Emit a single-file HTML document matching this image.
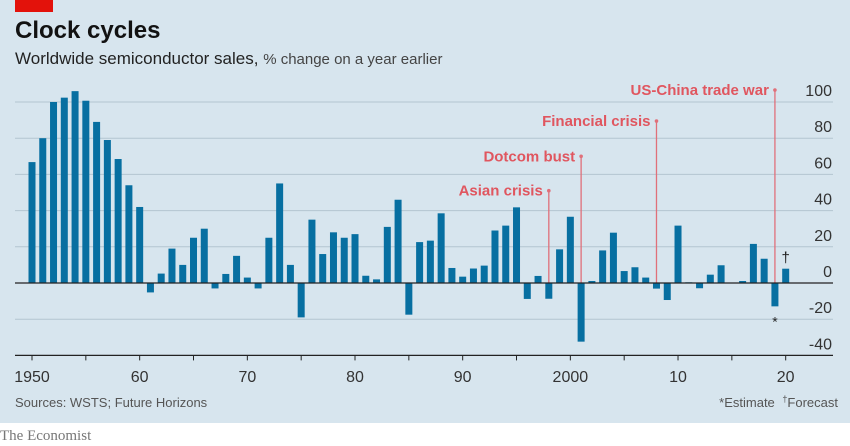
<!DOCTYPE html>
<html><head><meta charset="utf-8"><style>
body{margin:0;width:850px;height:446px;overflow:hidden;background:#fff;font-family:"Liberation Sans",sans-serif}
#bg{position:absolute;left:0;top:0;width:850px;height:423px;background:#d7e5ee}
</style></head><body>
<div id="bg"></div>
<svg width="850" height="446" style="position:absolute;left:0;top:0">
<rect x="15" y="0" width="38" height="12" fill="#e3120b"/>
<text x="15" y="38" font-size="24" font-weight="bold" fill="#121212">Clock cycles</text>
<text x="15" y="64" font-size="17" fill="#222">Worldwide semiconductor sales, <tspan font-size="15" fill="#444">% change on a year earlier</tspan></text>
<g id="grid"></g><g id="bars"></g><g id="ann"></g><g id="axis"></g>
<text x="15" y="407" font-size="13" fill="#555">Sources: WSTS; Future Horizons</text>
<text x="838" y="407" font-size="13" fill="#555" text-anchor="end">*Estimate  <tspan dx="4" font-size="9" dy="-5">†</tspan><tspan dy="5">Forecast</tspan></text>
<text x="0" y="440" font-size="15" fill="#777" font-family="Liberation Serif,serif">The Economist</text>
</svg>
<script>
const years=[];for(let y=1950;y<=2020;y++)years.push(y);
const values=[66.8,80,100,102.4,106,100.7,89,79,68.5,54,42,-5.2,5.2,19,10,25,30,-3,5,15,3,-3,25,55,10,-19,
35,16,28,25,27,4,2,31,46,-17.5,22.6,23.4,38.5,8.3,3.5,8,9.6,29,31.7,41.8,-8.8,3.9,-8.7,18.6,36.6,-32.4,1.1,18,27.8,6.6,8.7,3,-3.1,-9.4,31.7,0.4,-2.9,4.6,9.8,0.2,1.1,21.6,13.4,-12.9,7.9];
const yTicks=[100,80,60,40,20,0,-20,-40];
const xTickLabels=["1950","60","70","80","90","2000","10","20"];
const annYears=[1998,2001,2008,2019];
const annTops=[51,70,89.5,106.6];
const annLabels=["Asian crisis","Dotcom bust","Financial crisis","US-China trade war"];
const NS="http://www.w3.org/2000/svg";
const X=y=>32+10.767*(y-1950);
const Y=v=>283-1.81*v;
function mk(tag,attrs,parent,txt){const e=document.createElementNS(NS,tag);for(const k in attrs)e.setAttribute(k,attrs[k]);if(txt!=null)e.textContent=txt;document.getElementById(parent).appendChild(e);return e;}
yTicks.forEach(t=>{
 if(t!==0&&t!==-40){const l=mk('line',{x1:15,x2:833,y1:Y(t),y2:Y(t),stroke:'#b3c5d0','stroke-width':1},'grid');
 
 }
 const tx=mk('text',{x:832,y:Y(t)-6,'font-size':16,fill:'#333','text-anchor':'end'},'grid',t);
 
 
});
years.forEach((yr,i)=>{const v=values[i];
 const r=mk('rect',{x:X(yr)-3.5,y:Math.min(Y(v),Y(0)),width:7,height:Math.max(Math.abs(Y(v)-Y(0)),0.8),fill:'#076fa1'},'bars');
 
 
});
const z=mk('line',{x1:15,x2:833,y1:Y(0),y2:Y(0),stroke:'#222','stroke-width':1.3},'axis');


const b=mk('line',{x1:15,x2:833,y1:Y(-40),y2:Y(-40),stroke:'#222','stroke-width':1.2},'axis');


for(let yr=1950;yr<=2020;yr+=5){const t=mk('line',{x1:X(yr),x2:X(yr),y1:Y(-40),y2:Y(-40)+5,stroke:'#222'},'axis');
 
 }
xTickLabels.forEach((lab,i)=>{const t=mk('text',{x:X(1950+10*i),y:382,'font-size':16,fill:'#333','text-anchor':'middle'},'axis',lab);
 
 });
annYears.forEach((yr,i)=>{
 const l=mk('line',{x1:X(yr),x2:X(yr),y1:Y(annTops[i]),y2:Y(0),stroke:'#e0707a','stroke-width':1.3},'ann');
 
 
 const c=mk('circle',{cx:X(yr),cy:Y(annTops[i]),r:1.8,fill:'#e0707a'},'ann');
 
 
 const t=mk('text',{x:X(yr)-6,y:Y(annTops[i])+5,'font-size':15,'font-weight':'bold',fill:'#e0565f','text-anchor':'end'},'ann',annLabels[i]);
 
 
});
const s=mk('text',{x:X(2019),y:Y(-12.9)+20,'font-size':14,fill:'#222','text-anchor':'middle'},'ann','*');


const d=mk('text',{x:X(2020),y:Y(7.9)-6,'font-size':15,fill:'#222','text-anchor':'middle'},'ann','†');


</script>
</body></html>
